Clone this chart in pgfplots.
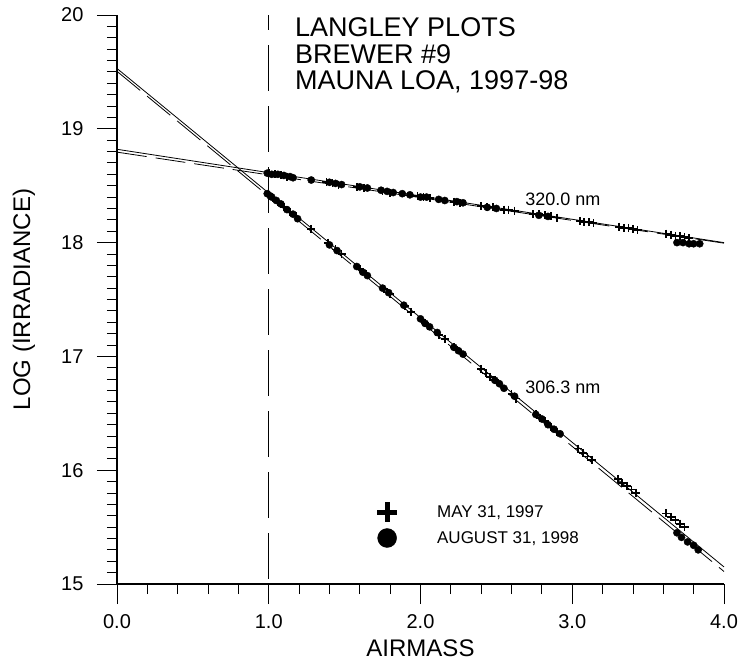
\documentclass[border=0pt]{standalone}
\usepackage{fontspec}
\setmainfont{Liberation Sans}
\usepackage{pgfplots}
\pgfplotsset{compat=1.18}

% fitted Langley lines and the measurements (airmass, log irradiance)
\newcommand{\fitA}{(0,18.82)(4,18.00)}
\newcommand{\fitB}{(0,18.795)(4,17.995)}
\newcommand{\fitC}{(0,19.53)(4,15.15)}
\newcommand{\fitD}{(0,19.505)(4,15.11)}

\begin{document}
\begin{tikzpicture}
\path[use as bounding box] (-117pt,-78pt) rectangle (624pt,584pt);
\begin{axis}[
  at={(0,0)}, anchor=south west,
  scale only axis, width=607pt, height=569pt,
  xmin=0, xmax=4, ymin=15, ymax=20,
  axis lines=left, axis line style={-, line width=1.1pt},
  clip=false,
  xtick={0,1,2,3,4}, minor x tick num=4,
  ytick={15,16,17,18,19,20}, minor y tick num=9,
  tick align=outside, major tick length=20pt, minor tick length=10pt,
  every tick/.style={line width=0.9pt, black},
  /pgf/number format/assume math mode=true,
  tick label style={font=\fontsize{20}{23}\selectfont},
  xticklabel style={yshift=-7pt, /pgf/number format/.cd, fixed, fixed zerofill, precision=1},
  yticklabel style={xshift=-10pt, /pgf/number format/.cd, fixed, precision=0},
  xlabel={AIRMASS},
  ylabel={LOG (IRRADIANCE)},
  xlabel style={at={(rel axis cs:0.5,0)}, anchor=base, yshift=-72pt,
    font=\fontsize{24}{28}\selectfont},
  ylabel style={at={(rel axis cs:0,0.5)}, anchor=center, yshift=93pt,
    font=\fontsize{24}{28}\selectfont},
  legend style={draw=none, fill=none, at={(axis cs:1.713,15.718)}, anchor=north west,
    font=\fontsize{17}{20}\selectfont, row sep=6pt, inner sep=0pt,
    /tikz/every odd column/.append style={column sep=38pt}},
  legend cell align=left,
]
% reference line at airmass 1
\addplot[forget plot, black, line width=0.8pt, dash pattern=on 46pt off 15pt, dash phase=31pt]
  coordinates {(1,20)(1,15)};

% 320.0 nm fits
\addplot[forget plot, black, line width=0.8pt] coordinates {\fitA};
\addplot[forget plot, black, line width=0.8pt, dash pattern=on 30pt off 9pt] coordinates {\fitB};
% 306.3 nm fits
\addplot[forget plot, black, line width=0.8pt] coordinates {\fitC};
\addplot[forget plot, black, line width=0.8pt, dash pattern=on 30pt off 9pt] coordinates {\fitD};

% May 31, 1997 (crosses)
\addplot[forget plot, only marks, mark=+, mark size=4pt, line width=1.8pt] coordinates {
(1.00,18.61)(1.04,18.60)(1.08,18.59)(1.12,18.58)(1.38,18.53)(1.42,18.52)(1.46,18.51)
(1.58,18.49)(1.63,18.48)(1.75,18.45)(1.80,18.44)(1.98,18.41)(2.02,18.40)(2.06,18.39)
(2.22,18.36)(2.26,18.35)(2.40,18.32)(2.44,18.31)(2.48,18.31)(2.55,18.29)(2.58,18.29)
(2.62,18.28)(2.74,18.25)(2.78,18.25)(2.82,18.24)(2.86,18.23)(2.90,18.22)(3.05,18.19)
(3.08,18.18)(3.11,18.18)(3.14,18.17)(3.31,18.14)(3.34,18.13)(3.37,18.13)(3.40,18.12)
(3.43,18.11)(3.62,18.08)(3.65,18.07)(3.68,18.06)(3.71,18.06)(3.74,18.05)(3.77,18.04)
};
\addplot[forget plot, only marks, mark=+, mark size=4pt, line width=1.8pt] coordinates {
(1.00,18.42)(1.03,18.39)(1.06,18.36)(1.10,18.31)(1.14,18.27)(1.18,18.23)(1.28,18.12)
(1.39,18.00)(1.44,17.94)(1.48,17.90)(1.60,17.77)(1.64,17.72)(1.76,17.59)(1.80,17.55)
(1.90,17.44)(1.94,17.39)(2.01,17.32)(2.05,17.27)(2.12,17.19)(2.16,17.15)(2.22,17.08)
(2.27,17.03)(2.40,16.89)(2.43,16.85)(2.46,16.82)(2.49,16.79)(2.60,16.67)(2.63,16.63)
(2.76,16.49)(2.79,16.46)(2.82,16.43)(2.86,16.38)(2.90,16.34)(3.04,16.19)(3.07,16.15)
(3.10,16.12)(3.13,16.09)(3.30,15.92)(3.33,15.89)(3.36,15.86)(3.39,15.83)(3.42,15.80)
(3.62,15.62)(3.65,15.59)(3.68,15.56)(3.71,15.53)(3.74,15.50)
};

% August 31, 1998 (dots)
\addplot[forget plot, only marks, mark=*, mark size=3.6pt] coordinates {
(0.99,18.61)(1.02,18.60)(1.06,18.60)(1.10,18.59)(1.14,18.58)(1.16,18.57)(1.28,18.55)
(1.40,18.53)(1.44,18.52)(1.48,18.51)(1.60,18.49)(1.65,18.48)(1.74,18.46)(1.78,18.45)
(1.82,18.44)(1.88,18.43)(1.93,18.42)(2.00,18.40)(2.04,18.40)(2.12,18.38)(2.16,18.37)
(2.24,18.36)(2.28,18.35)(2.44,18.31)(2.50,18.30)(2.78,18.24)(2.84,18.23)
(3.69,18.00)(3.73,18.00)(3.77,17.99)(3.80,17.99)(3.84,17.99)
};
\addplot[forget plot, only marks, mark=*, mark size=3.6pt] coordinates {
(0.99,18.43)(1.01,18.41)(1.02,18.40)(1.05,18.37)(1.08,18.34)(1.12,18.29)(1.16,18.25)
(1.19,18.21)(1.40,17.98)(1.45,17.93)(1.58,17.79)(1.62,17.74)(1.65,17.71)(1.75,17.60)
(1.79,17.56)(1.89,17.45)(2.00,17.33)(2.03,17.29)(2.06,17.26)(2.11,17.21)(2.22,17.08)
(2.25,17.05)(2.28,17.02)(2.49,16.79)(2.52,16.76)(2.55,16.72)(2.62,16.65)(2.76,16.49)
(2.80,16.45)(2.84,16.40)(2.88,16.36)(2.92,16.32)
(3.69,15.45)(3.72,15.41)(3.76,15.37)(3.80,15.34)(3.83,15.30)
};

\addlegendimage{only marks, mark=+, mark size=10pt, line width=5pt}
\addlegendentry{MAY 31, 1997}
\addlegendimage{only marks, mark=*, mark size=9.5pt}
\addlegendentry{AUGUST 31, 1998}

\node[anchor=base west, font=\fontsize{18}{21}\selectfont] at (axis cs:2.668,18.33) {320.0 nm};
\node[anchor=base west, font=\fontsize{18}{21}\selectfont] at (axis cs:2.668,16.67) {306.3 nm};

\node[anchor=base west, inner sep=0pt, font=\fontsize{27}{31}\selectfont] at (axis cs:1.173,19.807) {LANGLEY PLOTS};
\node[anchor=base west, inner sep=0pt, font=\fontsize{27}{31}\selectfont] at (axis cs:1.173,19.578) {BREWER \#9};
\node[anchor=base west, inner sep=0pt, font=\fontsize{27}{31}\selectfont] at (axis cs:1.173,19.341) {MAUNA LOA, 1997-98};
\end{axis}
\end{tikzpicture}
\end{document}
